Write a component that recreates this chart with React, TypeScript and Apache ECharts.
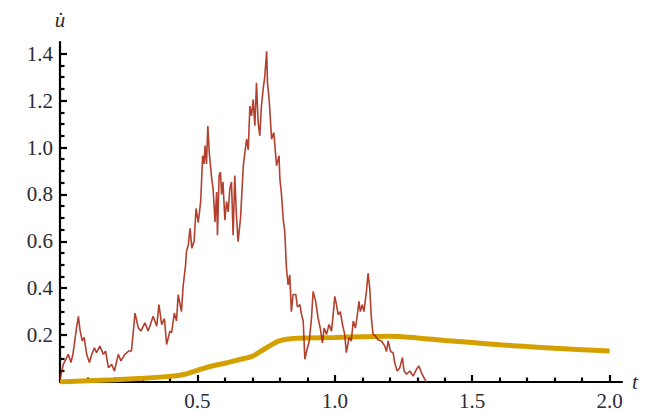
import React, { useEffect, useRef } from "react";
import * as echarts from "echarts";

// Noisy sample path u'(t)
const redT = [
  0, 0.012, 0.03, 0.04, 0.047, 0.06, 0.067, 0.073, 0.081, 0.088, 0.097, 0.107, 0.116, 0.125, 0.133, 0.145,
  0.158, 0.166, 0.176, 0.188, 0.198, 0.212, 0.222, 0.236, 0.25, 0.26, 0.273, 0.285, 0.294, 0.309, 0.321,
  0.339, 0.352, 0.36, 0.37, 0.38, 0.388, 0.4, 0.406, 0.416, 0.424, 0.43, 0.442, 0.448, 0.457, 0.46, 0.467,
  0.473, 0.48, 0.488, 0.495, 0.503, 0.512, 0.519, 0.524, 0.528, 0.533, 0.538, 0.543, 0.552, 0.557, 0.564,
  0.57, 0.573, 0.579, 0.584, 0.588, 0.593, 0.6, 0.606, 0.612, 0.618, 0.624, 0.63, 0.636, 0.642, 0.648,
  0.657, 0.667, 0.673, 0.679, 0.685, 0.691, 0.697, 0.703, 0.709, 0.715, 0.721, 0.727, 0.733, 0.739, 0.745,
  0.752, 0.755, 0.761, 0.77, 0.778, 0.788, 0.797, 0.8, 0.806, 0.812, 0.818, 0.824, 0.83, 0.836, 0.842,
  0.848, 0.858, 0.864, 0.873, 0.879, 0.885, 0.891, 0.897, 0.907, 0.915, 0.921, 0.93, 0.939, 0.947, 0.955,
  0.961, 0.97, 0.979, 0.988, 0.994, 1.0, 1.006, 1.012, 1.02, 1.028, 1.036, 1.042, 1.052, 1.06, 1.067,
  1.075, 1.082, 1.088, 1.093, 1.1, 1.106, 1.115, 1.121, 1.127, 1.133, 1.139, 1.148, 1.157, 1.17, 1.182,
  1.188, 1.194, 1.203, 1.212, 1.218, 1.227, 1.236, 1.246, 1.252, 1.261, 1.273, 1.285, 1.297, 1.306, 1.315,
  1.327, 1.333,
];
const redV = [
  0.01, 0.075, 0.118, 0.083, 0.118, 0.23, 0.28, 0.22, 0.175, 0.19, 0.118, 0.083, 0.118, 0.146, 0.125, 0.153,
  0.118, 0.132, 0.061, 0.075, 0.047, 0.118, 0.09, 0.118, 0.132, 0.132, 0.294, 0.23, 0.217, 0.252, 0.217,
  0.28, 0.238, 0.33, 0.245, 0.27, 0.16, 0.217, 0.21, 0.294, 0.26, 0.372, 0.3, 0.408, 0.5, 0.556, 0.584,
  0.655, 0.57, 0.6, 0.74, 0.68, 0.77, 0.965, 0.93, 1.008, 0.93, 1.092, 0.98, 0.867, 0.825, 0.683,
  0.81, 0.626, 0.88, 0.895, 0.8, 0.853, 0.69, 0.77, 0.725, 0.824, 0.853, 0.626, 0.88, 0.71, 0.598,
  0.7, 0.923, 0.98, 1.036, 0.99, 1.177, 1.135, 1.205, 1.093, 1.276, 1.107, 1.05, 1.177, 1.248, 1.3,
  1.41, 1.276, 1.205, 1.036, 1.064, 0.923, 0.965, 0.867, 0.8, 0.697, 0.64, 0.485, 0.414, 0.457, 0.3,
  0.373, 0.373, 0.32, 0.33, 0.287, 0.26, 0.097, 0.13, 0.175, 0.27, 0.386, 0.346, 0.273, 0.23, 0.167,
  0.23, 0.203, 0.245, 0.217, 0.287, 0.365, 0.33, 0.287, 0.3, 0.245, 0.203, 0.125, 0.19, 0.175, 0.26,
  0.23, 0.287, 0.344, 0.3, 0.33, 0.3, 0.386, 0.464, 0.4, 0.273, 0.203, 0.196, 0.18, 0.175, 0.153,
  0.13, 0.175, 0.13, 0.125, 0.082, 0.047, 0.06, 0.104, 0.047, 0.033, 0.047, 0.025, 0.054, 0.068, 0.04,
  0.012, 0.0,
];

// Smooth mean curve
const goldT = [0, 0.1, 0.2, 0.3, 0.4, 0.45, 0.5, 0.55, 0.6, 0.65, 0.7, 0.75, 0.8, 0.85, 0.9, 1.0, 1.1, 1.2, 1.3, 1.4, 1.5, 1.6, 1.7, 1.8, 1.9, 2.0];
const goldV = [0, 0.005, 0.01, 0.016, 0.024, 0.032, 0.05, 0.067, 0.08, 0.095, 0.11, 0.145, 0.176, 0.186, 0.188, 0.19, 0.193, 0.195, 0.188, 0.177, 0.168, 0.159, 0.151, 0.144, 0.138, 0.132];

// Ticks
const xMajor = [0.5, 1.0, 1.5, 2.0];
const xMinor = [0.1, 0.2, 0.3, 0.4, 0.6, 0.7, 0.8, 0.9, 1.1, 1.2, 1.3, 1.4, 1.6, 1.7, 1.8, 1.9];
const yMajor = [0.2, 0.4, 0.6, 0.8, 1.0, 1.2, 1.4];
const yMinor = [
  0.05, 0.1, 0.15, 0.25, 0.3, 0.35, 0.45, 0.5, 0.55, 0.65, 0.7, 0.75, 0.85, 0.9, 0.95,
  1.05, 1.1, 1.15, 1.25, 1.3, 1.35,
];
const xMax = 2.045;
const yMax = 1.45;

const FONT = "Liberation Serif";

export default function App() {
  const ref = useRef<HTMLDivElement>(null);
  useEffect(() => {
    if (!ref.current) return;
    const chart = echarts.init(ref.current, null, { renderer: "svg" });
    const labelStyle = { fontFamily: FONT, fontSize: 21, color: "#2b2b33" };
    const lineStyle = { color: "#000", width: 2.2 };
    const majorX = {
      type: "value",
      min: 0,
      max: xMax,
      interval: 0.5,
      gridIndex: 0,
      position: "bottom",
      name: "t",
      nameLocation: "end",
      nameGap: 10,
      nameTextStyle: { fontFamily: FONT, fontSize: 21, fontStyle: "italic", color: "#2b2b33", verticalAlign: "middle" },
      axisLine: { show: true, lineStyle },
      axisTick: { show: true, inside: true, length: 7, lineStyle: { color: "#000", width: 2.2 }, customValues: xMajor },
      axisLabel: { show: true, margin: 8, ...labelStyle, customValues: xMajor, formatter: (v: number) => v.toFixed(1) },
      splitLine: { show: false },
      minorTick: { show: false },
    };
    const minorXAxis = {
      type: "value",
      min: 0,
      max: xMax,
      interval: 0.5,
      gridIndex: 0,
      position: "bottom",
      offset: 0,
      axisLine: { show: false },
      axisTick: { show: true, inside: true, length: 4.5, lineStyle: { color: "#000", width: 2.2 }, customValues: xMinor },
      axisLabel: { show: false },
      splitLine: { show: false },
    };
    const majorY = {
      type: "value",
      min: 0,
      max: yMax,
      interval: 0.2,
      gridIndex: 0,
      position: "left",
      name: "u\u0307",
      nameLocation: "end",
      nameGap: 12,
      nameTextStyle: { fontFamily: FONT, fontSize: 21, fontStyle: "italic", color: "#2b2b33", align: "center" },
      axisLine: { show: true, lineStyle },
      axisTick: { show: true, inside: true, length: 7, lineStyle: { color: "#000", width: 2.2 }, customValues: yMajor },
      axisLabel: { show: true, margin: 7, ...labelStyle, customValues: yMajor, formatter: (v: number) => v.toFixed(1) },
      splitLine: { show: false },
    };
    const minorYAxis = {
      type: "value",
      min: 0,
      max: yMax,
      interval: 0.2,
      gridIndex: 0,
      position: "left",
      offset: 0,
      axisLine: { show: false },
      axisTick: { show: true, inside: true, length: 4.5, lineStyle: { color: "#000", width: 2.2 }, customValues: yMinor },
      axisLabel: { show: false },
      splitLine: { show: false },
    };
    chart.setOption({
      animation: false,
      backgroundColor: "#fff",
      grid: { left: 60, top: 42, right: 34, bottom: 26.5, containLabel: false },
      xAxis: [majorX, minorXAxis],
      yAxis: [majorY, minorYAxis],
      series: [
        {
          type: "line",
          xAxisIndex: 0,
          yAxisIndex: 0,
          data: goldT.map((t, i) => [t, goldV[i]]),
          showSymbol: false,
          symbol: "none",
          smooth: 0.3,
          lineStyle: { color: "#d4a000", width: 5 },
          z: 2,
        },
        {
          type: "line",
          xAxisIndex: 0,
          yAxisIndex: 0,
          data: redT.map((t, i) => [t, redV[i]]),
          showSymbol: false,
          symbol: "none",
          lineStyle: { color: "rgba(165,30,10,0.85)", width: 1.6 },
          z: 3,
        },
      ],
    } as any);
    return () => chart.dispose();
  }, []);
  return (
    <div
      ref={ref}
      style={{ position: "fixed", left: 0, top: 0, width: 656, height: 411, background: "#fff" }}
    />
  );
}
